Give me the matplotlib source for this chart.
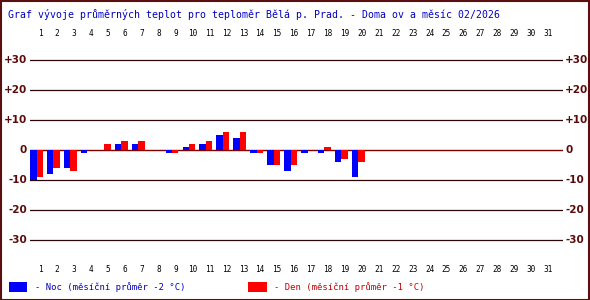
import matplotlib
matplotlib.use("Agg")
import matplotlib.pyplot as plt
from matplotlib.patches import Rectangle
import numpy as np

days = list(range(1, 32))
night = [-10, -8, -6, -1, 0, 2, 2, 0, -1, 1, 2, 5, 4, -1, -5, -7, -1, -1, -4, -9]
day_t = [-9, -6, -7, 0, 2, 3, 3, 0, -1, 2, 3, 6, 6, -1, -5, -5, 0, 1, -3, -4]
yticks = [30, 20, 10, 0, -10, -20, -30]
ylabels = ["+30", "+20", "+10", "0", "-10", "-20", "-30"]
title = "Graf vývoje průměrných teplot pro teploměr Bělá p. Prad. - Doma ov a měsíc 02/2026"
legend_night = "- Noc (měsíční průměr -2 °C)"
legend_day = "- Den (měsíční průměr -1 °C)"

W, H = 590, 300
fig = plt.figure(figsize=(W / 100, H / 100), dpi=100)
fig.patch.set_facecolor("white")

# axes: x px 30..563, y px 51..249
ax = fig.add_axes([30 / W, 1 - 249 / H, (563 - 30) / W, (249 - 51) / H])
ax.set_xlim(0.616, 32.08)
ax.set_ylim(-33, 33)
for s in ax.spines.values():
    s.set_visible(False)
ax.set_xticks([])
ax.set_yticks([])

for yv in yticks:
    if yv == 0:
        ax.axhline(yv, color="#800000", lw=1.0, zorder=1)
    else:
        ax.axhline(yv, color="#2a0808", lw=0.9, zorder=1)

bw = 0.38
n = len(night)
x = np.arange(1, n + 1)
ax.bar(x - bw / 2, night, width=bw, color="#0000ff", zorder=2, linewidth=0)
ax.bar(x + bw / 2, day_t, width=bw, color="#ff0000", zorder=2, linewidth=0)

mono = "DejaVu Sans Mono"
trans_top = ax.get_xaxis_transform()
for d in days:
    ax.text(d + 0.2, (249 - 34) / (249 - 51), str(d), transform=trans_top,
            ha="center", va="center", fontsize=5.6, family=mono, color="black", clip_on=False)
    ax.text(d + 0.2, (249 - 269) / (249 - 51), str(d), transform=trans_top,
            ha="center", va="center", fontsize=5.6, family=mono, color="black", clip_on=False)

for yv, lab in zip(yticks, ylabels):
    ax.text(-0.006, yv, lab, transform=ax.get_yaxis_transform(), ha="right", va="center",
            fontsize=7.5, fontweight="bold", color="#5a0a0a", clip_on=False)
    ax.text(1.004, yv, lab, transform=ax.get_yaxis_transform(), ha="left", va="center",
            fontsize=7.5, fontweight="bold", color="#5a0a0a", clip_on=False)

fig.text(8 / W, 1 - 14 / H, title, ha="left", va="center", fontsize=7.1,
         family=mono, color="#0000c0")

# legend
fig.patches.append(Rectangle((9 / W, 1 - 292 / H), 18 / W, 10 / H, transform=fig.transFigure,
                             facecolor="#0000ff", edgecolor="none"))
fig.text(35 / W, 1 - 287 / H, legend_night, ha="left", va="center", fontsize=6.4,
         family=mono, color="#0000c0")
fig.patches.append(Rectangle((248 / W, 1 - 292 / H), 19 / W, 10 / H, transform=fig.transFigure,
                             facecolor="#ff0000", edgecolor="none"))
fig.text(274 / W, 1 - 287 / H, legend_day, ha="left", va="center", fontsize=6.4,
         family=mono, color="#c00000")

# border
fig.patches.append(Rectangle((0.5 / W, 0.5 / H), (W - 1.5) / W, (H - 1.5) / H, transform=fig.transFigure,
                             facecolor="none", edgecolor="#5a1010", lw=1.5))

fig.savefig("out.png", dpi=100)
